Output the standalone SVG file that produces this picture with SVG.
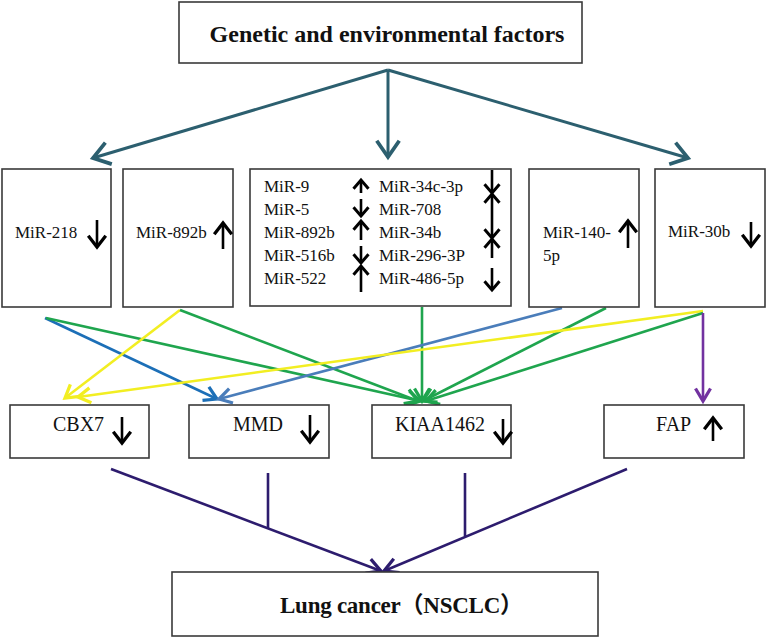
<svg xmlns="http://www.w3.org/2000/svg" width="766" height="637" viewBox="0 0 766 637">
<style>
.box{fill:#fff;stroke:#3a3a3a;stroke-width:1.6}
.t{font-family:"Liberation Serif","Times New Roman","Noto Sans CJK SC",serif;fill:#111}
.s17{font-size:17px}
.s20{font-size:20px}
.b{font-weight:bold}
.ar{fill:none;stroke:#000;stroke-width:2.6}
.c{fill:none;stroke-width:2.6}
</style>
<defs>
<marker id="mt" markerUnits="userSpaceOnUse" markerWidth="30" markerHeight="30" viewBox="-16 -12 20 24" refX="0" refY="0" orient="auto" overflow="visible"><path d="M-13,-9 L0,0 L-13,9" fill="none" stroke="#2c5f6f" stroke-width="3"/></marker>
<marker id="mk" markerUnits="userSpaceOnUse" markerWidth="20" markerHeight="20" viewBox="-10 -8 12 16" refX="0" refY="0" orient="auto" overflow="visible"><path d="M-9,-7 L0,0 L-9,7" fill="none" stroke="#000" stroke-width="2.6"/></marker>
<marker id="mks" markerUnits="userSpaceOnUse" markerWidth="20" markerHeight="20" viewBox="-10 -8 12 16" refX="0" refY="0" orient="auto" overflow="visible"><path d="M-7,-6 L0,0 L-7,6" fill="none" stroke="#000" stroke-width="2.4"/></marker>
<marker id="mg" markerUnits="userSpaceOnUse" markerWidth="20" markerHeight="20" viewBox="-12 -8 14 16" refX="0" refY="0" orient="auto" overflow="visible"><path d="M-10,-6 L0,0 L-10,6" fill="none" stroke="#1fa54e" stroke-width="2.6"/></marker>
<marker id="my" markerUnits="userSpaceOnUse" markerWidth="20" markerHeight="20" viewBox="-12 -8 14 16" refX="0" refY="0" orient="auto" overflow="visible"><path d="M-10,-6 L0,0 L-10,6" fill="none" stroke="#f2ee22" stroke-width="2.6"/></marker>
<marker id="mb" markerUnits="userSpaceOnUse" markerWidth="20" markerHeight="20" viewBox="-12 -8 14 16" refX="0" refY="0" orient="auto" overflow="visible"><path d="M-10,-6 L0,0 L-10,6" fill="none" stroke="#1c6fb7" stroke-width="2.6"/></marker>
<marker id="ms" markerUnits="userSpaceOnUse" markerWidth="20" markerHeight="20" viewBox="-12 -8 14 16" refX="0" refY="0" orient="auto" overflow="visible"><path d="M-10,-6 L0,0 L-10,6" fill="none" stroke="#4a7dba" stroke-width="2.6"/></marker>
<marker id="mp" markerUnits="userSpaceOnUse" markerWidth="20" markerHeight="20" viewBox="-12 -8 14 16" refX="0" refY="0" orient="auto" overflow="visible"><path d="M-10,-6 L0,0 L-10,6" fill="none" stroke="#7232a0" stroke-width="2.6"/></marker>
<marker id="mn" markerUnits="userSpaceOnUse" markerWidth="20" markerHeight="20" viewBox="-12 -8 14 16" refX="0" refY="0" orient="auto" overflow="visible"><path d="M-11,-6 L0,0 L-11,6" fill="none" stroke="#2d1c6e" stroke-width="2.6"/></marker>
</defs>
<rect width="766" height="637" fill="#fff"/>

<g id="connectors">
<g stroke="#2c5f6f" stroke-width="3" fill="none">
<line x1="388" y1="70" x2="93" y2="158" marker-end="url(#mt)"/>
<line x1="388" y1="70" x2="388" y2="157" marker-end="url(#mt)"/>
<line x1="388" y1="70" x2="688" y2="158" marker-end="url(#mt)"/>
</g>
<line class="c" stroke="#1c6fb7" x1="45" y1="318" x2="217" y2="399" marker-end="url(#mb)"/>
<line class="c" stroke="#1fa54e" x1="46" y1="318" x2="420" y2="401" marker-end="url(#mg)"/>
<line class="c" stroke="#f2ee22" x1="180" y1="310" x2="65" y2="398" marker-end="url(#my)"/>
<line class="c" stroke="#1fa54e" x1="180" y1="310" x2="418" y2="401" marker-end="url(#mg)"/>
<line class="c" stroke="#1fa54e" x1="422" y1="307" x2="422" y2="401" marker-end="url(#mg)"/>
<line class="c" stroke="#4a7dba" x1="562" y1="308" x2="219" y2="399" marker-end="url(#ms)"/>
<line class="c" stroke="#1fa54e" x1="606" y1="308" x2="423" y2="401" marker-end="url(#mg)"/>
<line class="c" stroke="#f2ee22" x1="703" y1="311" x2="78" y2="397" marker-end="url(#my)"/>
<line class="c" stroke="#1fa54e" x1="703" y1="313" x2="426" y2="401" marker-end="url(#mg)"/>
<line class="c" stroke="#7232a0" x1="703" y1="313" x2="703" y2="401" marker-end="url(#mp)"/>
<g stroke="#2d1c6e" stroke-width="2.6" fill="none">
<line x1="111" y1="469" x2="381" y2="571" marker-end="url(#mn)"/>
<line x1="627" y1="469" x2="384" y2="571" marker-end="url(#mn)"/>
<line x1="268" y1="473" x2="268" y2="529"/>
<line x1="465" y1="473" x2="465" y2="536"/>
</g>
</g>

<g id="factors">
<rect class="box" x="179" y="2" width="403" height="61"/>
<text class="t b" x="387" y="42" font-size="24" text-anchor="middle">Genetic and environmental factors</text>
</g>

<g id="mir218">
<rect class="box" x="2" y="169" width="109" height="138"/>
<text class="t s17" x="15" y="238">MiR-218</text>
<line class="ar" x1="97" y1="220" x2="97" y2="247" marker-end="url(#mk)"/>
</g>

<g id="mir892b">
<rect class="box" x="123" y="169" width="110" height="138"/>
<text class="t s17" x="136" y="238">MiR-892b</text>
<line class="ar" x1="223" y1="249" x2="223" y2="223" marker-end="url(#mk)"/>
</g>

<g id="mirgroup">
<rect class="box" x="250" y="169" width="261" height="137"/>
<text class="t s17" x="264" y="192">MiR-9</text>
<text class="t s17" x="264" y="215">MiR-5</text>
<text class="t s17" x="264" y="238">MiR-892b</text>
<text class="t s17" x="264" y="261">MiR-516b</text>
<text class="t s17" x="264" y="284">MiR-522</text>
<text class="t s17" x="379" y="192">MiR-34c-3p</text>
<text class="t s17" x="379" y="215">MiR-708</text>
<text class="t s17" x="379" y="238">MiR-34b</text>
<text class="t s17" x="379" y="261">MiR-296-3P</text>
<text class="t s17" x="379" y="284">MiR-486-5p</text>
<g>
<line class="ar" x1="361" y1="193" x2="361" y2="180" marker-end="url(#mks)"/>
<line class="ar" x1="361" y1="199" x2="361" y2="216" marker-end="url(#mks)"/>
<line class="ar" x1="361" y1="240" x2="361" y2="221" marker-end="url(#mks)"/>
<line class="ar" x1="361" y1="246" x2="361" y2="263" marker-end="url(#mks)"/>
<line class="ar" x1="361" y1="292" x2="361" y2="266" marker-end="url(#mks)"/>
<line class="ar" x1="492" y1="170" x2="492" y2="193" marker-end="url(#mks)"/>
<line class="ar" x1="492" y1="217" x2="492" y2="194" marker-end="url(#mks)"/>
<line class="ar" x1="492" y1="217" x2="492" y2="238" marker-end="url(#mks)"/>
<line class="ar" x1="492" y1="258" x2="492" y2="239" marker-end="url(#mks)"/>
<line class="ar" x1="492" y1="268" x2="492" y2="290" marker-end="url(#mks)"/>
</g>
</g>

<g id="mir140">
<rect class="box" x="529" y="169" width="110" height="138"/>
<text class="t s17" x="543" y="238">MiR-140-</text>
<text class="t s17" x="543" y="261">5p</text>
<line class="ar" x1="628" y1="248" x2="628" y2="221" marker-end="url(#mk)"/>
</g>

<g id="mir30b">
<rect class="box" x="655" y="169" width="110" height="138"/>
<text class="t s17" x="668" y="237">MiR-30b</text>
<line class="ar" x1="751" y1="222" x2="751" y2="246" marker-end="url(#mk)"/>
</g>

<g id="cbx7">
<rect class="box" x="10" y="405" width="139" height="53"/>
<text class="t s20" x="53" y="431">CBX7</text>
<line class="ar" x1="122" y1="417" x2="122" y2="443" marker-end="url(#mk)"/>
</g>

<g id="mmd">
<rect class="box" x="189" y="405" width="140" height="53"/>
<text class="t s20" x="233" y="431">MMD</text>
<line class="ar" x1="310" y1="415" x2="310" y2="442" marker-end="url(#mk)"/>
</g>

<g id="kiaa1462">
<rect class="box" x="372" y="405" width="139" height="53"/>
<text class="t s20" x="395" y="431">KIAA1462</text>
<line class="ar" x1="503" y1="419" x2="503" y2="443" marker-end="url(#mk)"/>
</g>

<g id="fap">
<rect class="box" x="604" y="405" width="140" height="53"/>
<text class="t s20" x="656" y="431">FAP</text>
<line class="ar" x1="713" y1="441" x2="713" y2="418" marker-end="url(#mk)"/>
</g>

<g id="lungcancer">
<rect class="box" x="172" y="572" width="426" height="64"/>
<text class="t b" x="280" y="613" font-size="23" textLength="243" lengthAdjust="spacing">Lung cancer（NSCLC）</text>
</g>
</svg>
